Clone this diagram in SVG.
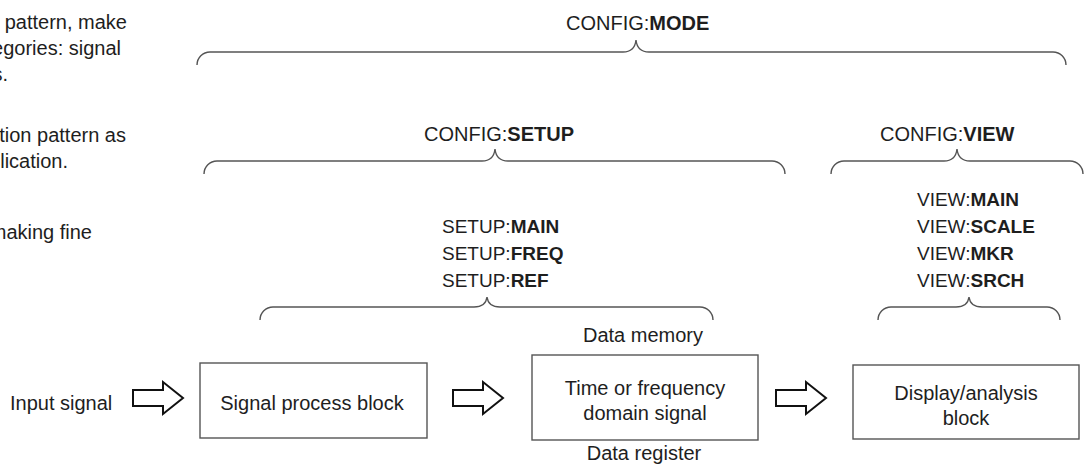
<svg xmlns="http://www.w3.org/2000/svg" width="1086" height="466" viewBox="0 0 1086 466">
<style>
text{font-family:"Liberation Sans",Arial,sans-serif;font-size:20px;fill:#1e1e1e}
.b{font-weight:bold}
.lbl{font-size:19px}
.brace{fill:none;stroke:#555;stroke-width:1.4}
.box{fill:#fff;stroke:#555;stroke-width:1.4}
.arr{fill:#fff;stroke:#111;stroke-width:2;stroke-linejoin:miter}
.m{text-anchor:middle}
.e{text-anchor:end}
</style>
<rect width="1086" height="466" fill="#fff"/>
<g id="side-text">
<text class="e" x="127" y="29">n pattern, make</text>
<text class="e" x="121" y="55">egories: signal</text>
<text class="e" x="8" y="81">s.</text>
<text class="e" x="126" y="142">ation pattern as</text>
<text class="e" x="68" y="168">plication.</text>
<text class="e" x="92" y="239">making fine</text>
</g>
<g id="labels">
<text x="566" y="30">CONFIG:<tspan class="b">MODE</tspan></text>
<text x="424" y="141">CONFIG:<tspan class="b">SETUP</tspan></text>
<text x="880" y="141">CONFIG:<tspan class="b">VIEW</tspan></text>
<text class="lbl" x="442" y="233">SETUP:<tspan class="b">MAIN</tspan></text>
<text class="lbl" x="442" y="260">SETUP:<tspan class="b">FREQ</tspan></text>
<text class="lbl" x="442" y="287">SETUP:<tspan class="b">REF</tspan></text>
<text class="lbl" x="917" y="206">VIEW:<tspan class="b">MAIN</tspan></text>
<text class="lbl" x="917" y="233">VIEW:<tspan class="b">SCALE</tspan></text>
<text class="lbl" x="917" y="260">VIEW:<tspan class="b">MKR</tspan></text>
<text class="lbl" x="917" y="287">VIEW:<tspan class="b">SRCH</tspan></text>
<text class="m" x="643" y="342">Data memory</text>
<text class="m" x="644" y="460">Data register</text>
<text x="10" y="410">Input signal</text>
</g>
<g id="braces">
<path class="brace" d="M197,65 A13,13 0 0 1 210,52 L623,52 C630,52 635,49 636,40 C637,49 642,52 649,52 L1053,52 A13,13 0 0 1 1066,65"/>
<path class="brace" d="M204,174 A13,13 0 0 1 217,161 L482,161 C489,161 494,158 495,149 C496,158 501,161 508,161 L772,161 A13,13 0 0 1 785,174"/>
<path class="brace" d="M831,174 A13,13 0 0 1 844,161 L944,161 C951,161 956,158 957,149 C958,158 963,161 970,161 L1070,161 A13,13 0 0 1 1083,174"/>
<path class="brace" d="M260,320 A13,13 0 0 1 273,307 L474,307 C481,307 486,305 487,297 C488,305 493,307 500,307 L700,307 A13,13 0 0 1 713,320"/>
<path class="brace" d="M878,320 A13,13 0 0 1 891,307 L956,307 C963,307 968,305 969,297 C970,305 975,307 982,307 L1047,307 A13,13 0 0 1 1060,320"/>
</g>
<g id="node-signal-process">
<rect class="box" x="200" y="363" width="227" height="75"/>
<text class="m" x="312" y="410">Signal process block</text>
</g>
<g id="node-time-freq">
<rect class="box" x="532" y="355" width="226" height="85"/>
<text class="m" x="645" y="395">Time or frequency</text>
<text class="m" x="645" y="420">domain signal</text>
</g>
<g id="node-display">
<rect class="box" x="853" y="365" width="226" height="74"/>
<text class="m" x="966" y="400">Display/analysis</text>
<text class="m" x="966" y="425">block</text>
</g>
<g id="connectors">
<path class="arr" d="M133,390 L163,390 L163,382 L183,398 L163,414 L163,406 L133,406 Z"/>
<path class="arr" d="M453,390 L483,390 L483,382 L503,398 L483,414 L483,406 L453,406 Z"/>
<path class="arr" d="M776,390 L806,390 L806,382 L826,398 L806,414 L806,406 L776,406 Z"/>
</g>
</svg>
